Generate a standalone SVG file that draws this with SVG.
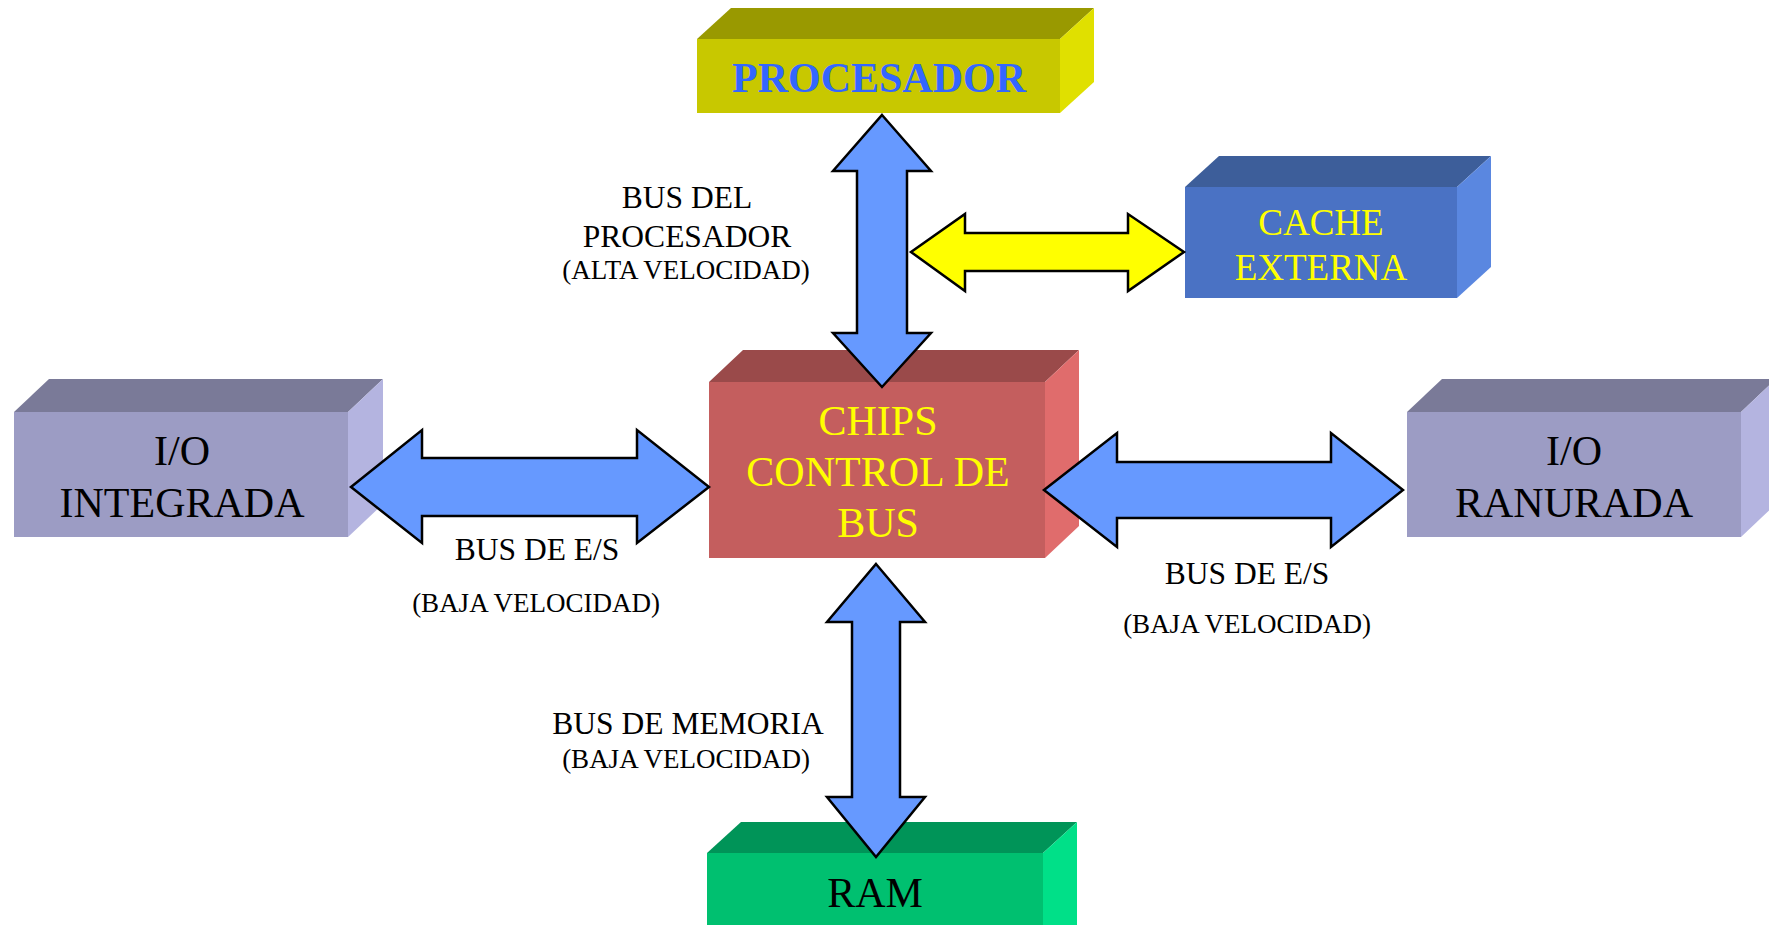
<svg xmlns="http://www.w3.org/2000/svg" width="1769" height="925" viewBox="0 0 1769 925">
<style>
text{font-family:"Liberation Serif","Times New Roman",serif;text-anchor:middle}
.big{font-size:42px}
.lbl{font-size:31.5px;fill:#000}
.sub{font-size:27px;fill:#000}
.arr{stroke:#000;stroke-width:2.5;stroke-linejoin:miter}
.blue{fill:#6699FF}
.yel{fill:#FFFF00}
</style>
<rect width="1769" height="925" fill="#fff"/>
<g id="procesador">
<polygon points="697,39 731,8 1094,8 1060,39" fill="#999900"/>
<polygon points="1060,39 1094,8 1094,82 1060,113" fill="#E0E000"/>
<rect x="697" y="39" width="363" height="74" fill="#C8C800"/>
<text x="879" y="92" class="big" font-weight="bold" fill="#3366FF">PROCESADOR</text>
</g>
<g id="cache">
<polygon points="1185,187 1219,156 1491,156 1457,187" fill="#3D5E9A"/>
<polygon points="1457,187 1491,156 1491,267 1457,298" fill="#5A87E0"/>
<rect x="1185" y="187" width="272" height="111" fill="#4A72C4"/>
<text x="1321" y="235" font-size="37" fill="#FFFF00">CACHE</text>
<text x="1321" y="280" font-size="37" fill="#FFFF00">EXTERNA</text>
</g>
<g id="chips">
<polygon points="709,382 743,350 1079,350 1045,382" fill="#9A4A4A"/>
<polygon points="1045,382 1079,350 1079,526 1045,558" fill="#E06C6C"/>
<rect x="709" y="382" width="336" height="176" fill="#C45E5E"/>
<text x="878" y="435" class="big" fill="#FFFF00">CHIPS</text>
<text x="878" y="486" class="big" fill="#FFFF00">CONTROL DE</text>
<text x="878" y="537" class="big" fill="#FFFF00">BUS</text>
</g>
<g id="io-integrada">
<polygon points="14,412 49,379 383,379 348,412" fill="#7A7A98"/>
<polygon points="348,412 383,379 383,504 348,537" fill="#B4B4E0"/>
<rect x="14" y="412" width="334" height="125" fill="#9C9CC4"/>
<text x="182" y="465" class="big" fill="#000">I/O</text>
<text x="182" y="517" class="big" fill="#000">INTEGRADA</text>
</g>
<g id="io-ranurada">
<polygon points="1407,412 1442,379 1776,379 1741,412" fill="#7A7A98"/>
<polygon points="1741,412 1776,379 1776,504 1741,537" fill="#B4B4E0"/>
<rect x="1407" y="412" width="334" height="125" fill="#9C9CC4"/>
<text x="1574" y="465" class="big" fill="#000">I/O</text>
<text x="1574" y="517" class="big" fill="#000">RANURADA</text>
</g>
<g id="ram">
<polygon points="707,853 741,822 1077,822 1043,853" fill="#009458"/>
<polygon points="1043,853 1077,822 1077,925 1043,935" fill="#00E088"/>
<rect x="707" y="853" width="336" height="80" fill="#00C070"/>
<text x="875" y="907" class="big" fill="#000">RAM</text>
</g>
<g id="connectors">
<polygon class="arr blue" points="882,115 931,171 907,171 907,333 931,333 882,387 833,333 857,333 857,171 833,171"/>
<polygon class="arr yel" points="911,252 965,214 965,233 1128,233 1128,214 1184,252 1128,291 1128,271 965,271 965,291"/>
<polygon class="arr blue" points="876,564 925,622 900,622 900,797 925,797 876,857 827,797 852,797 852,622 827,622"/>
<polygon class="arr blue" points="351,487 422,430 422,458 637,458 637,430 709,487 637,543 637,516 422,516 422,543"/>
<polygon class="arr blue" points="1044,490 1117,433 1117,462 1331,462 1331,433 1403,490 1331,547 1331,518 1117,518 1117,547"/>
</g>
<g id="labels">
<text x="687" y="208" class="lbl">BUS DEL</text>
<text x="687" y="247" class="lbl">PROCESADOR</text>
<text x="686" y="279" class="sub">(ALTA VELOCIDAD)</text>
<text x="537" y="560" class="lbl">BUS DE E/S</text>
<text x="536" y="612" class="sub">(BAJA VELOCIDAD)</text>
<text x="1247" y="584" class="lbl">BUS DE E/S</text>
<text x="1247" y="633" class="sub">(BAJA VELOCIDAD)</text>
<text x="688" y="734" class="lbl">BUS DE MEMORIA</text>
<text x="686" y="768" class="sub">(BAJA VELOCIDAD)</text>
</g>
</svg>
